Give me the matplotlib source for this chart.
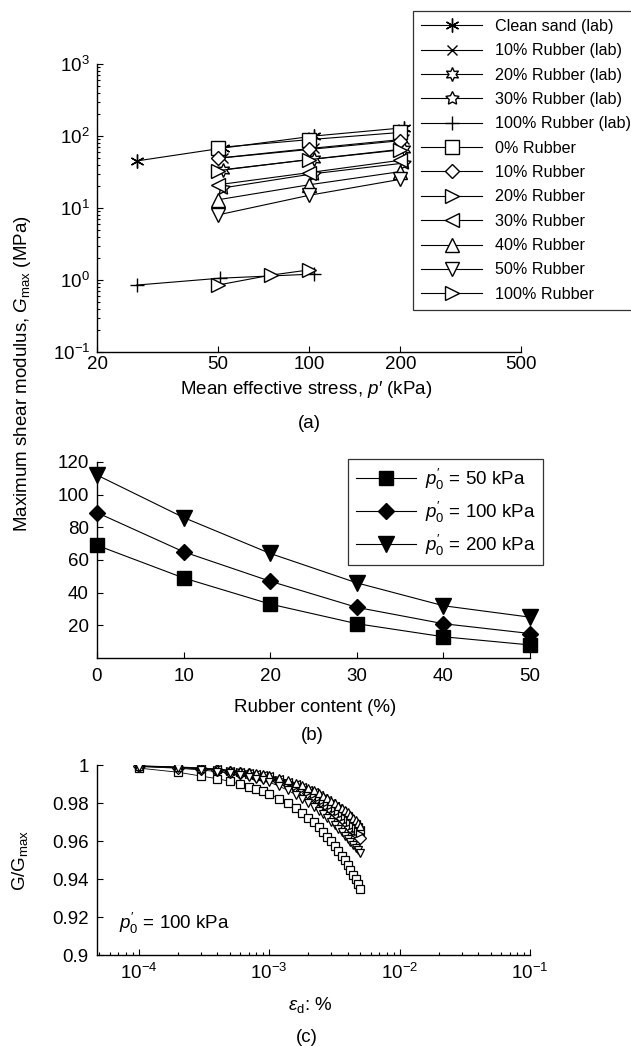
import matplotlib
matplotlib.use("Agg")
import matplotlib.pyplot as plt
from matplotlib.ticker import FixedLocator, NullLocator, LogLocator, FuncFormatter, NullFormatter, LogFormatterMathtext

plt.rcParams['font.family'] = ['Liberation Sans', 'DejaVu Sans']
plt.rcParams['mathtext.fontset'] = 'custom'
plt.rcParams['mathtext.rm'] = 'Liberation Sans'
plt.rcParams['mathtext.it'] = 'Liberation Sans:italic'
plt.rcParams['mathtext.bf'] = 'Liberation Sans:bold'
plt.rcParams['axes.unicode_minus'] = True

# ---------------- data ----------------
# panel (b): Gmax (MPa) vs rubber content, for three confining stresses
rubber_content = [0, 10, 20, 30, 40, 50]
gmax_p50 = [69, 49, 33, 21, 13, 8]
gmax_p100 = [89, 65, 47, 31, 21, 15]
gmax_p200 = [112, 86, 64, 46, 32, 25]

# panel (a): model stresses (kPa)
stress_model = [50, 100, 200]
stress_rubber100 = [50, 75, 100]
gmax_rubber100 = [0.85, 1.17, 1.38]

# panel (a): laboratory data
stress_lab_sand = [27, 52, 104, 205]
gmax_lab_sand = [45, 68, 100, 130]
stress_lab = [52, 104, 205]
gmax_lab_r10 = [50, 68, 90]
gmax_lab_r20 = [34, 48, 66]
gmax_lab_r30 = [19, 30, 42]
stress_lab_r100 = [27, 51, 104]
gmax_lab_r100 = [0.85, 1.06, 1.21]

# panel (c): G/Gmax vs deviatoric strain (%), p'0 = 100 kPa
strain = [0.0001, 0.0002, 0.0003, 0.0004, 0.0005, 0.0006, 0.0007, 0.0008, 0.0009, 0.0010,
          0.0012, 0.0014, 0.0016, 0.0018, 0.0020, 0.0022, 0.0024, 0.0026, 0.0028, 0.0030,
          0.0032, 0.0034, 0.0036, 0.0038, 0.0040, 0.0042, 0.0044, 0.0046, 0.0048, 0.0050]
ratio_r0 = [0.9984, 0.9962, 0.9942, 0.9928, 0.9914, 0.9899, 0.9886, 0.9874, 0.9861, 0.9848,
            0.9823, 0.9798, 0.9773, 0.9748, 0.9723, 0.9698, 0.9673, 0.9648, 0.9623, 0.9598,
            0.9573, 0.9548, 0.9523, 0.9498, 0.9473, 0.9448, 0.9423, 0.9398, 0.9373, 0.9348]
ratio_r10 = [0.9993, 0.9986, 0.9979, 0.9972, 0.9965, 0.9958, 0.9951, 0.9944, 0.9937, 0.9930,
             0.9914, 0.9898, 0.9882, 0.9866, 0.9850, 0.9834, 0.9818, 0.9802, 0.9786, 0.9770,
             0.9754, 0.9738, 0.9722, 0.9706, 0.9690, 0.9675, 0.9660, 0.9645, 0.9630, 0.9615]
ratio_r20 = [0.9994, 0.9987, 0.9981, 0.9974, 0.9968, 0.9961, 0.9955, 0.9948, 0.9942, 0.9935,
             0.9920, 0.9905, 0.9890, 0.9875, 0.9860, 0.9846, 0.9832, 0.9818, 0.9804, 0.9790,
             0.9775, 0.9760, 0.9745, 0.9730, 0.9715, 0.9700, 0.9685, 0.9670, 0.9655, 0.9640]
ratio_r30 = [0.9995, 0.9989, 0.9983, 0.9977, 0.9971, 0.9964, 0.9958, 0.9952, 0.9946, 0.9940,
             0.9926, 0.9912, 0.9898, 0.9884, 0.9870, 0.9856, 0.9842, 0.9828, 0.9814, 0.9800,
             0.9786, 0.9772, 0.9758, 0.9744, 0.9730, 0.9716, 0.9702, 0.9688, 0.9674, 0.9660]
ratio_r40 = [0.9996, 0.9990, 0.9985, 0.9979, 0.9973, 0.9968, 0.9962, 0.9956, 0.9951, 0.9945,
             0.9932, 0.9919, 0.9906, 0.9893, 0.9880, 0.9866, 0.9852, 0.9838, 0.9824, 0.9810,
             0.9798, 0.9786, 0.9774, 0.9762, 0.9750, 0.9736, 0.9722, 0.9708, 0.9694, 0.9680]
ratio_r50 = [0.9992, 0.9983, 0.9974, 0.9965, 0.9956, 0.9946, 0.9937, 0.9928, 0.9919, 0.9910,
             0.9888, 0.9866, 0.9844, 0.9822, 0.9800, 0.9780, 0.9760, 0.9740, 0.9720, 0.9700,
             0.9682, 0.9664, 0.9646, 0.9628, 0.9610, 0.9595, 0.9580, 0.9565, 0.9550, 0.9535]

xticks_a = [20, 50, 100, 200, 500]
yticks_b = [20, 40, 60, 80, 100, 120]
xticks_b = [0, 10, 20, 30, 40, 50]
yticks_c = [0.9, 0.92, 0.94, 0.96, 0.98, 1.0]

# ---------------- figure ----------------
W, H = 631, 1046
fig = plt.figure(figsize=(W / 100, H / 100), dpi=100)

def ax_rect(l, r, t, b):
    return [l / W, 1 - b / H, (r - l) / W, (b - t) / H]

FS = 13.5
LW = 0.8

def style_axes(ax):
    for s in ['top', 'right']:
        ax.spines[s].set_visible(False)
    for s in ['left', 'bottom']:
        ax.spines[s].set_linewidth(1.0)
    ax.tick_params(which='both', direction='in', labelsize=FS, width=0.8)
    ax.tick_params(which='major', length=4)
    ax.tick_params(which='minor', length=2)

# ----- panel (a) -----
axa = fig.add_axes(ax_rect(97, 521, 64, 352))
style_axes(axa)
axa.set_xscale('log')
axa.set_yscale('log')
axa.set_xlim(20, 500)
axa.set_ylim(0.1, 1000)

mk = dict(color='black', lw=LW, mfc='white', mec='black', mew=1.0)
h = []
h += axa.plot(stress_lab_sand, gmax_lab_sand, marker=(6, 2, 0), ms=10, label='Clean sand (lab)', **mk)
h += axa.plot(stress_lab, gmax_lab_r10, marker='x', ms=6.5, label='10% Rubber (lab)', **mk)
h += axa.plot(stress_lab, gmax_lab_r20, marker=(6, 1, 0), ms=10, label='20% Rubber (lab)', **mk)
h += axa.plot(stress_lab, gmax_lab_r30, marker=(5, 1, 0), ms=10, label='30% Rubber (lab)', **mk)
h += axa.plot(stress_lab_r100, gmax_lab_r100, marker='+', ms=10, label='100% Rubber (lab)', **mk)

model_markers = ['s', 'D', '>', '<', '^', 'v']
model_ms = [9.5, 7.5, 10, 10, 10, 10]
for i, rc in enumerate(rubber_content):
    vals = [gmax_p50[i], gmax_p100[i], gmax_p200[i]]
    h += axa.plot(stress_model, vals, marker=model_markers[i], ms=model_ms[i],
                  label=f'{rc}% Rubber', **mk)
h += axa.plot(stress_rubber100, gmax_rubber100, marker='>', ms=10, label='100% Rubber', **mk)

axa.xaxis.set_major_locator(FixedLocator(xticks_a))
axa.xaxis.set_minor_locator(NullLocator())
axa.xaxis.set_major_formatter(FuncFormatter(lambda v, p: f'{v:g}'))
axa.yaxis.set_major_locator(LogLocator(base=10, numticks=10))
axa.yaxis.set_minor_locator(LogLocator(base=10, subs=range(2, 10), numticks=10))
axa.yaxis.set_major_formatter(LogFormatterMathtext())
axa.yaxis.set_minor_formatter(NullFormatter())
axa.tick_params(axis='x', pad=3)
axa.tick_params(axis='y', pad=5)

leg_a = fig.legend(h, [l.get_label() for l in h], loc='upper left',
                   bbox_to_anchor=(413 / W, 1 - 11 / H), bbox_transform=fig.transFigure,
                   fontsize=11.6, frameon=True, fancybox=False, edgecolor='black',
                   handlelength=3.8, handletextpad=0.8, labelspacing=0.58,
                   borderpad=0.5, borderaxespad=0, numpoints=1)
leg_a.get_frame().set_linewidth(0.9)

# ----- panel (b) -----
axb = fig.add_axes(ax_rect(97, 530, 462, 658))
style_axes(axb)
axb.set_xlim(0, 50)
axb.set_ylim(0, 120)
mkb = dict(color='black', lw=LW, mfc='black', mec='black')
axb.plot(rubber_content, gmax_p50, marker='s', ms=10, label=r"$p^{\prime}_{0}$ = 50 kPa", **mkb)
axb.plot(rubber_content, gmax_p100, marker='D', ms=8, label=r"$p^{\prime}_{0}$ = 100 kPa", **mkb)
axb.plot(rubber_content, gmax_p200, marker='v', ms=11, label=r"$p^{\prime}_{0}$ = 200 kPa", **mkb)
axb.xaxis.set_major_locator(FixedLocator(xticks_b))
axb.yaxis.set_major_locator(FixedLocator(yticks_b))
axb.tick_params(axis='x', pad=7)
axb.tick_params(axis='y', pad=6)
for ln in axb.lines:
    ln.set_clip_on(False)
leg_b = axb.legend(loc='upper left', bbox_to_anchor=(348 / W, 1 - 459 / H),
                   bbox_transform=fig.transFigure, fontsize=FS, frameon=True,
                   fancybox=False, edgecolor='black', handlelength=3.2,
                   handletextpad=0.5, labelspacing=0.42, borderpad=0.4,
                   borderaxespad=0, numpoints=1)
leg_b.get_frame().set_linewidth(0.9)

# ----- panel (c) -----
axc = fig.add_axes(ax_rect(97, 530, 765, 955))
style_axes(axc)
axc.set_xscale('log')
axc.set_xlim(4.8e-5, 0.1)
axc.set_ylim(0.9, 1.0)
mkc = dict(color='black', lw=0.6, mfc='white', mec='black', mew=0.9, ms=6.3)
series_c = [ratio_r0, ratio_r10, ratio_r20, ratio_r30, ratio_r40, ratio_r50]
for ser, m in zip(series_c, model_markers):
    axc.plot(strain, ser, marker=m, **mkc)
axc.xaxis.set_major_locator(LogLocator(base=10, numticks=10))
axc.xaxis.set_minor_locator(LogLocator(base=10, subs=range(2, 10), numticks=10))
axc.xaxis.set_major_formatter(LogFormatterMathtext())
axc.xaxis.set_minor_formatter(NullFormatter())
axc.yaxis.set_major_locator(FixedLocator(yticks_c))
axc.yaxis.set_major_formatter(FuncFormatter(lambda v, p: f'{v:g}'))
axc.tick_params(axis='x', pad=6)
axc.tick_params(axis='y', pad=6)
fig.text(119 / W, 1 - 923 / H, r"$p^{\prime}_{0}$ = 100 kPa", fontsize=FS, ha='left', va='center')

# ----- labels -----
fig.text(306 / W, 1 - 389 / H, r"Mean effective stress, $p$′ (kPa)", fontsize=FS, ha='center', va='center')
fig.text(309 / W, 1 - 424 / H, "(a)", fontsize=FS, ha='center', va='center')
fig.text(315 / W, 1 - 707 / H, "Rubber content (%)", fontsize=FS, ha='center', va='center')
fig.text(312 / W, 1 - 735 / H, "(b)", fontsize=FS, ha='center', va='center')
fig.text(310 / W, 1 - 1005 / H, r"$\varepsilon_{\mathrm{d}}$: %", fontsize=FS, ha='center', va='center')
fig.text(307 / W, 1 - 1037 / H, "(c)", fontsize=FS, ha='center', va='center')
fig.text(23 / W, 1 - 374 / H, r"Maximum shear modulus, $G_{\mathrm{max}}$ (MPa)", fontsize=FS,
         rotation=90, ha='center', va='center')
fig.text(20 / W, 1 - 860 / H, r"G/G$_{\mathrm{max}}$", fontsize=FS, rotation=90, ha='center', va='center')

fig.savefig('out.png', dpi=100)
